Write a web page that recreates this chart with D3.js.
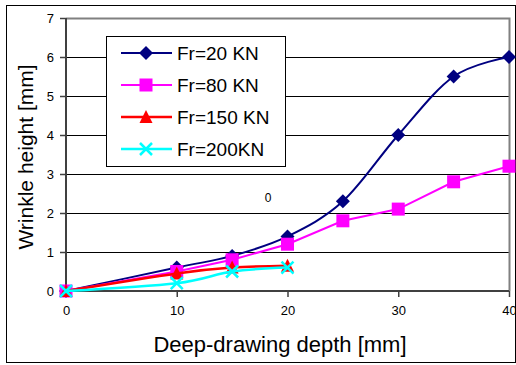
<!DOCTYPE html>
<html><head><meta charset="utf-8">
<script src="https://cdn.jsdelivr.net/npm/d3@7"></script>
<style>body{margin:0;background:#fff}svg{display:block;font-family:"Liberation Sans",Arial,sans-serif}</style>
</head><body><svg id="c" width="516" height="365"></svg>
<script>
const depth = [0, 10, 15, 20, 25, 30, 35, 40];
const fr20  = [0, 0.6, 0.9, 1.4, 2.3, 4.0, 5.5, 6.0];
const fr80  = [0, 0.5, 0.8, 1.2, 1.8, 2.1, 2.8, 3.2];
const fr150 = [0, 0.45, 0.6, 0.65];
const fr200 = [0, 0.2, 0.5, 0.6];
const seriesNames = ["Fr=20 KN", "Fr=80 KN", "Fr=150 KN", "Fr=200KN"];
const xTicks = [0, 10, 20, 30, 40];
const yTicks = [0, 1, 2, 3, 4, 5, 6, 7];

const svg = d3.select("#c");
const x = d3.scaleLinear().domain([0, 40]).range([66, 509]);
const y = d3.scaleLinear().domain([0, 7]).range([291, 18]);

// outer frame
svg.append("rect").attr("x", 6.5).attr("y", 5.5).attr("width", 509).attr("height", 357)
  .attr("fill", "#fff").attr("stroke", "#000").attr("stroke-width", 1);

// gridlines
svg.append("g").selectAll("line").data(yTicks.filter(d => d > 0 && d < 7)).join("line")
  .attr("x1", x(0)).attr("x2", x(40)).attr("y1", d => Math.round(y(d)) + 0.5).attr("y2", d => Math.round(y(d)) + 0.5)
  .attr("stroke", "#000").attr("stroke-width", 1);

// plot border top/right gray
svg.append("path").attr("d", `M${x(0)},${y(7)+0.5}H${x(40)+0.5}V${y(0)}`)
  .attr("fill", "none").attr("stroke", "#808080").attr("stroke-width", 2);

// axes
const yAxis = svg.append("g").attr("transform", `translate(${x(0)},0)`)
  .call(d3.axisLeft(y).tickValues(yTicks).tickSize(6).tickPadding(6).tickFormat(d3.format("d")));
const xAxis = svg.append("g").attr("transform", `translate(0,${y(0)})`)
  .call(d3.axisBottom(x).tickValues(xTicks).tickSize(6).tickPadding(9).tickFormat(d3.format("d")));
[yAxis, xAxis].forEach(g => {
  g.select(".domain").attr("stroke", "#404040").attr("stroke-width", 2);
  g.selectAll(".tick line").attr("stroke", "#404040").attr("stroke-width", 1.5);
  g.selectAll(".tick text").attr("font-size", 13).attr("fill", "#000")
    .attr("font-family", "Liberation Sans, Arial, sans-serif");
});
yAxis.select(".domain").attr("d", `M0,${y(7)}V${y(0)}`);
xAxis.select(".domain").attr("d", `M${x(0)},0H${x(40)}`);

// titles
svg.append("text").attr("transform", `translate(33,157) rotate(-90)`).attr("text-anchor", "middle")
  .attr("font-size", 21).text("Wrinkle height [mm]");
svg.append("text").attr("x", 280).attr("y", 352).attr("text-anchor", "middle")
  .attr("font-size", 22).text("Deep-drawing depth [mm]");

// stray label
svg.append("text").attr("x", 268).attr("y", 202).attr("text-anchor", "middle").attr("font-size", 12).text("0");

const series = [
  {vals: fr20, color: "#000080", sym: "diamond", curve: d3.curveCatmullRom.alpha(0), w: 2},
  {vals: fr80, color: "#FF00FF", sym: "square", curve: d3.curveLinear, w: 2},
  {vals: fr150, color: "#FF0000", sym: "triangle", curve: d3.curveCatmullRom.alpha(0), w: 2.5},
  {vals: fr200, color: "#00FFFF", sym: "x", curve: d3.curveCatmullRom.alpha(0), w: 2.5}
];

function drawMarker(g, sym, color, cx, cy) {
  if (sym === "diamond") {
    g.append("path").attr("d", `M${cx},${cy-7}L${cx+7},${cy}L${cx},${cy+7}L${cx-7},${cy}Z`).attr("fill", color);
  } else if (sym === "square") {
    g.append("rect").attr("x", cx-6.5).attr("y", cy-6.5).attr("width", 13).attr("height", 13).attr("fill", color);
  } else if (sym === "triangle") {
    g.append("path").attr("d", `M${cx},${cy-7}L${cx+6.5},${cy+6}L${cx-6.5},${cy+6}Z`).attr("fill", color);
  } else {
    g.append("path").attr("d", `M${cx-6},${cy-6}L${cx+6},${cy+6}M${cx+6},${cy-6}L${cx-6},${cy+6}`)
      .attr("stroke", color).attr("stroke-width", 2.5).attr("fill", "none");
  }
}

series.forEach(s => {
  const pts = s.vals.map((v, i) => [depth[i], v]);
  const g = svg.append("g");
  g.append("path").datum(pts)
    .attr("d", d3.line().x(d => x(d[0])).y(d => y(d[1])).curve(s.curve))
    .attr("fill", "none").attr("stroke", s.color).attr("stroke-width", s.w);
  pts.forEach(p => drawMarker(g, s.sym, s.color, x(p[0]), y(p[1])));
});

// legend
const lg = svg.append("g");
lg.append("rect").attr("x", 106.5).attr("y", 36.5).attr("width", 179).attr("height", 130)
  .attr("fill", "#fff").attr("stroke", "#000").attr("stroke-width", 1);
const rowY = [53, 85, 117, 149];
series.forEach((s, i) => {
  lg.append("line").attr("x1", 121).attr("x2", 172).attr("y1", rowY[i]).attr("y2", rowY[i])
    .attr("stroke", s.color).attr("stroke-width", s.w);
  drawMarker(lg, s.sym, s.color, 146, rowY[i]);
  lg.append("text").attr("x", 177).attr("y", rowY[i] + 7).attr("font-size", 19).text(seriesNames[i]);
});
</script></body></html>
